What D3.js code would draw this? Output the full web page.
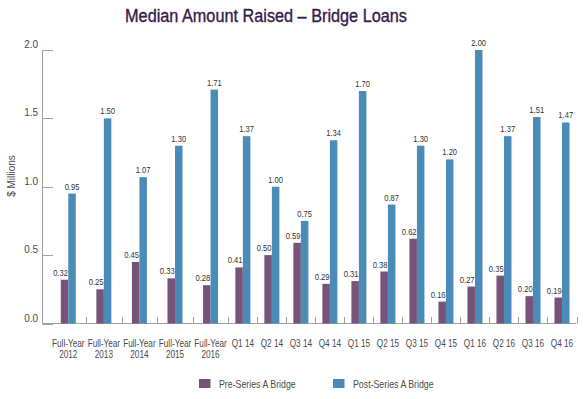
<!DOCTYPE html>
<html>
<head>
<meta charset="utf-8">
<script src="https://cdnjs.cloudflare.com/ajax/libs/d3/7.8.5/d3.min.js"></script>
<style>
  html, body { margin: 0; padding: 0; background: #fff; }
  svg { display: block; font-family: "Liberation Sans", Arial, Helvetica, sans-serif; }
</style>
</head>
<body>
<svg id="chart" width="584" height="399"></svg>
<script>
const categories = ["Full-Year 2012","Full-Year 2013","Full-Year 2014","Full-Year 2015","Full-Year 2016",
  "Q1 14","Q2 14","Q3 14","Q4 14","Q1 15","Q2 15","Q3 15","Q4 15","Q1 16","Q2 16","Q3 16","Q4 16"];
const preSeriesA = [0.32,0.25,0.45,0.33,0.28,0.41,0.50,0.59,0.29,0.31,0.38,0.62,0.16,0.27,0.35,0.20,0.19];
const postSeriesA = [0.95,1.50,1.07,1.30,1.71,1.37,1.00,0.75,1.34,1.70,0.87,1.30,1.20,2.00,1.37,1.51,1.47];
const yTicks = [0, 0.5, 1.0, 1.5, 2.0];
const seriesNames = ["Pre-Series A Bridge", "Post-Series A Bridge"];
const colors = ["#775279", "#4b8bb8"];
const title = "Median Amount Raised \u2013 Bridge Loans";
const yLabel = "$ Millions";

const svg = d3.select("#chart");
const axisColor = "#a0a0a0";
const textColor = "#4a4a4a";

// condensed text helper
function ctext(parent, tx, ty, sx, size, anchor, fill, str) {
  return parent.append("g")
    .attr("transform", `translate(${tx},${ty}) scale(${sx},1)`)
    .append("text")
    .attr("x", 0).attr("y", 0)
    .attr("text-anchor", anchor)
    .attr("font-size", size)
    .attr("fill", fill)
    .text(str);
}

// Category widths: full-year categories are wider than quarterly ones
const weights = categories.map(c => c.startsWith("Full-Year") ? 1.226 : 1);
const starts = [];
let acc = 0;
weights.forEach(w => { starts.push(acc); acc += w; });
const total = acc;

const plotLeft = 42.5, plotRight = 576.5, bandLeft = 50.5;
const x = d3.scaleLinear().domain([0, total]).range([bandLeft, plotRight]);
const y = d3.scaleLinear().domain([0, 2]).range([323.5, 50]);

const barW = 7.5;

// Title
ctext(svg, 266, 22, 0.93, 17.5, "middle", "#35204b", title)
  .attr("stroke", "#35204b").attr("stroke-width", 0.35);

// Y axis line
svg.append("line")
  .attr("x1", plotLeft).attr("x2", plotLeft)
  .attr("y1", y(2)).attr("y2", y(0))
  .attr("stroke", axisColor).attr("stroke-width", 1);

// Y ticks (short lines pointing into plot)
const yt = svg.append("g");
yTicks.forEach(t => {
  yt.append("line")
    .attr("x1", plotLeft).attr("x2", plotLeft + 10.5)
    .attr("y1", Math.round(y(t)) + 0.5).attr("y2", Math.round(y(t)) + 0.5)
    .attr("stroke", axisColor).attr("stroke-width", 1);
  ctext(yt, 38, y(t) - 2, 0.95, 10.5, "end", textColor, d3.format(".1f")(t));
});

// Y label
svg.append("text")
  .attr("transform", `translate(15,176) rotate(-90)`)
  .attr("text-anchor", "middle")
  .attr("font-size", 10)
  .attr("fill", textColor)
  .text(yLabel);

// X axis line
svg.append("line")
  .attr("x1", plotLeft).attr("x2", plotRight)
  .attr("y1", y(0)).attr("y2", y(0))
  .attr("stroke", axisColor).attr("stroke-width", 1);

// X ticks at band ends (pointing up)
categories.forEach((c, i) => {
  const xe = Math.round(x(starts[i] + weights[i])) + 0.5;
  svg.append("line")
    .attr("x1", xe).attr("x2", xe)
    .attr("y1", y(0)).attr("y2", y(0) - 6.5)
    .attr("stroke", axisColor).attr("stroke-width", 1);
});

// Bars
const gBars = svg.append("g");
const gLabels = svg.append("g");
categories.forEach((c, i) => {
  const cx = x(starts[i] + weights[i] / 2);
  [preSeriesA, postSeriesA].forEach((vals, s) => {
    const v = vals[i];
    const bx = s === 0 ? cx - barW : cx;
    gBars.append("rect")
      .attr("x", bx).attr("y", y(v))
      .attr("width", barW).attr("height", y(0) - y(v))
      .attr("fill", colors[s]);
    ctext(gLabels, bx + barW / 2 + (s === 0 ? -4 : 0), y(v) - 4, 0.8, 9.5, "middle", "#333", d3.format(".2f")(v));
  });
});

// X labels
const gx = svg.append("g");
categories.forEach((c, i) => {
  const cx = x(starts[i] + weights[i] / 2);
  if (c.startsWith("Full-Year")) {
    const parts = c.split(" ");
    ctext(gx, cx, 347, 0.82, 10, "middle", textColor, parts[0]);
    ctext(gx, cx, 357.5, 0.82, 10, "middle", textColor, parts[1]);
  } else {
    ctext(gx, cx, 347, 0.82, 10, "middle", textColor, c);
  }
});

// Legend
const legendX = [199, 333];
seriesNames.forEach((n, s) => {
  svg.append("rect")
    .attr("x", legendX[s]).attr("y", 379)
    .attr("width", 11.5).attr("height", 9)
    .attr("fill", colors[s]);
  ctext(svg, legendX[s] + 20, 387.5, 0.88, 10, "start", textColor, n);
});
</script>
</body>
</html>
